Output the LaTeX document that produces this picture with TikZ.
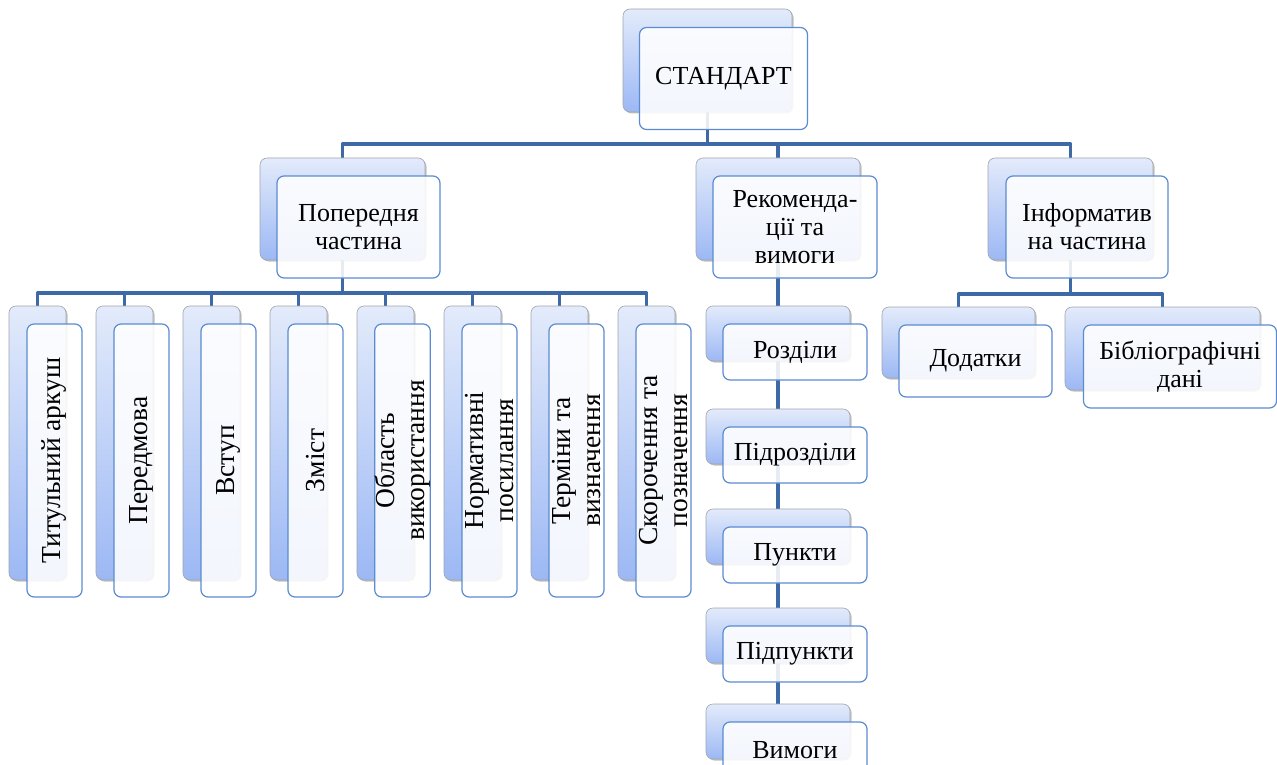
\documentclass[tikz,border=0pt]{standalone}
\usepackage{fontspec}
\setmainfont{Liberation Serif}
\usetikzlibrary{shadows}
\definecolor{conncol}{HTML}{3D6AA6}
\definecolor{backtop}{HTML}{E3EBFB}
\definecolor{backbot}{HTML}{9CB8F4}
\definecolor{frontdraw}{HTML}{5B8BD0}
\definecolor{backdraw}{HTML}{A0A4AC}
\pgfdeclarelayer{bg}
\pgfsetlayers{bg,main}
\tikzset{
  backbox/.style={rectangle, rounded corners=7pt, draw=backdraw, line width=0.6pt,
    top color=backtop, bottom color=backbot, inner sep=0pt,
    drop shadow={shadow xshift=1.5pt, shadow yshift=-1.5pt, opacity=0.35, fill=black!70}},
  frontbox/.style={rectangle, rounded corners=7pt, draw=frontdraw, line width=1.2pt,
    fill=white, fill opacity=0.88, text opacity=1, draw opacity=1, inner sep=0pt,
    align=center, font=\fontsize{26}{28}\selectfont},
  vfront/.style={frontbox, rotate=90, font=\fontsize{27.5}{30}\selectfont},
  conn/.style={draw=conncol, line width=3.6pt, line join=round}
}
\begin{document}
\begin{tikzpicture}[x=1pt,y=-1pt]
\useasboundingbox (0,0) rectangle (1277,765);
% top
\node[backbox, minimum width=169, minimum height=103] (stdb) at (707.5,60.5) {};
\node[frontbox, minimum width=168, minimum height=102] (std) at (723.5,78.5) {СТАНДАРТ};
% level 1
\node[backbox, minimum width=165, minimum height=102] (popb) at (342.5,209) {};
\node[frontbox, minimum width=163, minimum height=102] (pop) at (358.5,227) {Попередня\\частина};
\node[backbox, minimum width=164, minimum height=102] (recb) at (778,209) {};
\node[frontbox, minimum width=164, minimum height=102] (rec) at (795,227) {Рекоменда-\\ції та\\вимоги};
\node[backbox, minimum width=165, minimum height=102] (infb) at (1070.5,209) {};
\node[frontbox, minimum width=162, minimum height=102] (inf) at (1087,227) {Інформатив\\на частина};
% vertical boxes
\foreach \i/\t in {0/{Титульний аркуш},1/{Передмова},2/{Вступ},3/{Зміст},4/{Область\\використання},5/{Нормативні\\посилання},6/{Терміни та\\визначення},7/{Скорочення та\\позначення}}{
  \node[backbox, minimum width=57, minimum height=274] (vb\i) at (37.5+87*\i,443) {};
  \node[vfront, minimum width=273, minimum height=55] (vf\i) at (54.5+87*\i,460.5) {\t};
}
% middle column
\foreach \i/\top/\t in {1/306/Розділи,2/409/Підрозділи,3/509/Пункти,4/608/Підпункти,5/704/Вимоги}{
  \node[backbox, minimum width=144, minimum height=55] (mb\i) at (778,\top+27.5) {};
  \node[frontbox, minimum width=144, minimum height=56] (mf\i) at (795,\top+46) {\t};
}
% right
\node[backbox, minimum width=153, minimum height=71] (dodb) at (958.5,342.5) {};
\node[frontbox, minimum width=153, minimum height=72] (dod) at (975.5,361) {Додатки};
\node[backbox, minimum width=195, minimum height=83] (bibb) at (1162.5,348.5) {};
\node[frontbox, minimum width=193, minimum height=83] (bib) at (1180,366.5) {Бібліографічні\\дані};
% connectors
\begin{pgfonlayer}{bg}
\draw[conn] (stdb.center) -- (stdb.center |- 0,144) coordinate (j0);
\draw[conn] (j0) -| (popb.center);
\draw[conn] (j0) -| (recb.center);
\draw[conn] (j0) -| (infb.center);
\draw[conn] (popb.center) -- (popb.center |- 0,293) coordinate (j1);
\foreach \i in {0,...,7}{
  \draw[conn] (j1) -| (vb\i.center);
}
\draw[conn] (recb.center) -- (mb5.center);
\draw[conn] (infb.center) -- (infb.center |- 0,294) coordinate (j2);
\draw[conn] (j2) -| (dodb.center);
\draw[conn] (j2) -| (bibb.center);
\end{pgfonlayer}
\end{tikzpicture}
\end{document}
